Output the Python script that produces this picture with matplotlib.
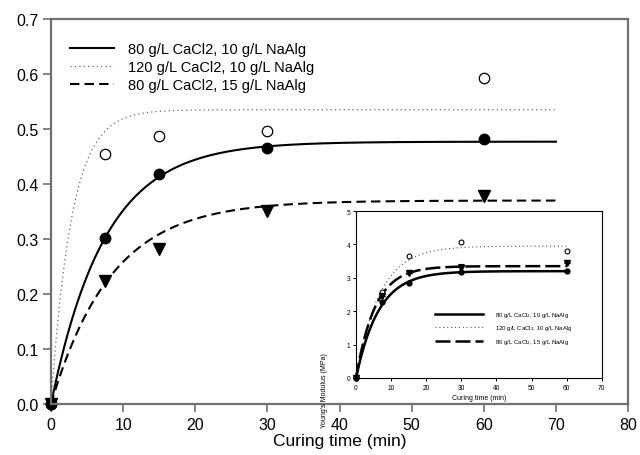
import numpy as np
import matplotlib
matplotlib.use('Agg')
import matplotlib.pyplot as plt

plt.rcParams['font.family'] = ['Liberation Sans', 'DejaVu Sans']

# curing time (min) and measured values
t_data = [0, 7.5, 15, 30, 60]
labels = ['80 g/L CaCl2, 10 g/L NaAlg',
          '120 g/L CaCl2, 10 g/L NaAlg',
          '80 g/L CaCl2, 15 g/L NaAlg']
inset_labels = ['80 g/L CaCl$_2$, 10 g/L NaAlg',
                '120 g/L CaCl$_2$, 10 g/L NaAlg',
                '80 g/L CaCl$_2$, 15 g/L NaAlg']

# main plot data
y_80_10 = [0, 0.302, 0.418, 0.465, 0.482]
y_120_10 = [0, 0.455, 0.488, 0.496, 0.593]
y_80_15 = [0, 0.224, 0.282, 0.351, 0.378]
# first order fits y = a*(1-exp(-k t))
fit_a = [0.477, 0.535, 0.370]
fit_k = [0.134, 0.35, 0.12]

# inset: Young's modulus (MPa)
E_80_10 = [0, 2.29, 2.84, 3.17, 3.22]
E_120_10 = [0, 2.59, 3.64, 4.07, 3.79]
E_80_15 = [0, 2.45, 3.15, 3.30, 3.44]
E_80_15_err = [0, 0, 0, 0.12, 0]
E_fit_a = [3.20, 3.95, 3.35]
E_fit_k = [0.155, 0.15, 0.185]

fig = plt.figure(figsize=(6.4, 4.56), dpi=100)
ax = fig.add_axes([0.0797, 0.1118, 0.9016, 0.8443])

frame = '#707070'
styles = [dict(ls='-', color='k', lw=1.5),
          dict(ls=(0, (1, 2.5)), color='#666666', lw=0.9),
          dict(ls=(0, (4.5, 2.5)), color='k', lw=1.5)]

tt = np.linspace(0, 70, 300)
for a, k, st, lab in zip(fit_a, fit_k, styles, labels):
    ax.plot(tt, a * (1 - np.exp(-k * tt)), label=lab, clip_on=False, **st)

ax.plot(t_data, y_120_10, 'o', mfc='white', mec='k', ms=7.5, mew=0.9, ls='none', clip_on=False)
ax.plot(t_data, y_80_10, 'o', color='k', ms=7.5, ls='none', clip_on=False)
ax.plot(t_data, y_80_15, 'v', color='k', ms=8, ls='none', clip_on=False)

ax.set_xlim(0, 80)
ax.set_ylim(0, 0.7)
ax.set_xticks(np.arange(0, 81, 10))
ax.set_yticks(np.arange(0, 0.71, 0.1))
ax.yaxis.set_major_formatter(matplotlib.ticker.FormatStrFormatter('%.1f'))
ax.tick_params(direction='out', length=6, width=1.2, color=frame, labelsize=11.5, pad=3)
for sp in ax.spines.values():
    sp.set_color(frame)
    sp.set_linewidth(1.6)
ax.set_xlabel('Curing time (min)', fontsize=12.5, labelpad=1)

leg = ax.legend(loc='upper left', bbox_to_anchor=(0.01, 0.975), frameon=False,
                fontsize=10.5, handlelength=3.0, labelspacing=0.28, handletextpad=1.0)

# inset with Young's modulus
ins = fig.add_axes([0.5563, 0.1689, 0.384, 0.366])
tt2 = np.linspace(0, 60, 300)
istyles = [dict(ls='-', color='k', lw=1.8),
           dict(ls=(0, (1, 2.5)), color='#555555', lw=0.8),
           dict(ls=(0, (6, 2)), color='k', lw=1.8)]
for a, k, st, lab in zip(E_fit_a, E_fit_k, istyles, inset_labels):
    ins.plot(tt2, a * (1 - np.exp(-k * tt2)), label=lab, clip_on=False, **st)

ins.plot(t_data, E_120_10, 'o', mfc='white', mec='k', ms=3.5, mew=0.8, ls='none', clip_on=False)
ins.plot(t_data, E_80_10, 'o', color='k', ms=3.5, ls='none', clip_on=False)
ins.errorbar(t_data, E_80_15, yerr=E_80_15_err, fmt='v', color='k', ms=4,
             elinewidth=0.8, capsize=2, capthick=0.8, clip_on=False)

ins.set_xlim(0, 70)
ins.set_ylim(0, 5)
ins.set_xticks(np.arange(0, 71, 10))
ins.set_yticks(np.arange(0, 6, 1))
ins.tick_params(direction='out', length=2, width=0.7, labelsize=4.8, pad=2)
for sp in ins.spines.values():
    sp.set_linewidth(0.8)
ins.set_xlabel('Curing time (min)', fontsize=5)
ins.xaxis.set_label_coords(0.5, -0.095)
ins.set_ylabel("Young's Modulus (MPa)", fontsize=5)
ins.yaxis.set_label_coords(-0.115, -0.07)

ins.legend(loc='upper left', bbox_to_anchor=(0.3, 0.44), frameon=False,
           fontsize=4.3, handlelength=8, labelspacing=0.75, handletextpad=2.0)

fig.savefig('out.png', dpi=100)
